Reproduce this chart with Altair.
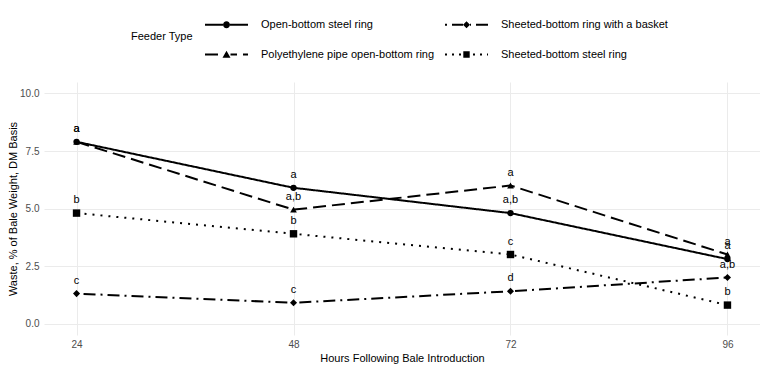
import altair as alt
import pandas as pd

# ---- data ----
hours = [24, 48, 72, 96]
feeder_order = [
    "Open-bottom steel ring",
    "Polyethylene pipe open-bottom ring",
    "Sheeted-bottom ring with a basket",
    "Sheeted-bottom steel ring",
]
open_steel = [7.9, 5.9, 4.8, 2.8]
poly_pipe = [7.9, 4.95, 6.0, 3.0]
basket = [1.3, 0.9, 1.4, 2.0]
sheeted_steel = [4.8, 3.9, 3.0, 0.8]

open_steel_letters = ["a", "a", "a,b", "a"]
poly_pipe_letters = ["a", "a,b", "a", "a"]
basket_letters = ["c", "c", "d", "a,b"]
sheeted_steel_letters = ["b", "b", "c", "b"]

y_ticks = [0, 2.5, 5, 7.5, 10]

values = [open_steel, poly_pipe, basket, sheeted_steel]
letters = [open_steel_letters, poly_pipe_letters, basket_letters, sheeted_steel_letters]

rows = []
for name, vals, lets in zip(feeder_order, values, letters):
    for h, v, l in zip(hours, vals, lets):
        rows.append({"Feeder": name, "Hours": h, "Waste": v, "Letter": l})
df = pd.DataFrame(rows)

# ---- styles ----
FONT = "Liberation Sans"
dashes = [[1, 0], [13, 6], [2, 5, 12, 5], [2, 6]]
point_shapes = ["circle", "triangle-up", "diamond", "square"]
point_sizes = [40, 55, 32, 40]

# legend keys: line segment (with dash pattern) plus marker, as custom paths
KEY_W = 43.0
U = KEY_W / 2.0


def fmt(v):
    return f"{v / U:.4f}"


def rect(x0, x1, h=1.0):
    return f"M{fmt(x0)},{fmt(-h)}L{fmt(x1)},{fmt(-h)}L{fmt(x1)},{fmt(h)}L{fmt(x0)},{fmt(h)}Z"


def dash_segments(pattern, gap_lo, gap_hi):
    segs = []
    x = -U
    i = 0
    on = True
    while x < U:
        x1 = min(x + pattern[i % len(pattern)], U)
        if on and x1 > x:
            segs.append((x, x1))
        x = x1
        on = not on
        i += 1
    out = []
    for a, b in segs:
        if b <= gap_lo or a >= gap_hi:
            out.append((a, b))
        else:
            if a < gap_lo:
                out.append((a, gap_lo))
            if b > gap_hi:
                out.append((gap_hi, b))
    return "".join(rect(a, b) for a, b in out)


def circle(r):
    return (f"M{fmt(-r)},0A{fmt(r)},{fmt(r)} 0 1 1 {fmt(r)},0"
            f"A{fmt(r)},{fmt(r)} 0 1 1 {fmt(-r)},0Z")


def triangle(w, h):
    return f"M0,{fmt(-h * 0.55)}L{fmt(w / 2)},{fmt(h * 0.45)}L{fmt(-w / 2)},{fmt(h * 0.45)}Z"


def diamond(r):
    return f"M0,{fmt(-r)}L{fmt(r)},0L0,{fmt(r)}L{fmt(-r)},0Z"


def square(r):
    return f"M{fmt(-r)},{fmt(-r)}L{fmt(r)},{fmt(-r)}L{fmt(r)},{fmt(r)}L{fmt(-r)},{fmt(r)}Z"


key_paths = [
    dash_segments([100, 0], -3.5, 3.5) + circle(3.5),
    dash_segments([13, 6], -4, 4) + triangle(8, 7),
    dash_segments([2, 5, 12, 5], -3.5, 3.5) + diamond(3.5),
    dash_segments([2, 5], -3.2, 3.2) + square(3.2),
]

x_enc = alt.X(
    "Hours:Q",
    scale=alt.Scale(domain=[20.4, 99.6], nice=False, zero=False),
    axis=alt.Axis(
        values=hours, format="d", title="Hours Following Bale Introduction",
        grid=True, gridColor="#ebebeb", gridWidth=1, ticks=False, domain=False,
        labelColor="#4d4d4d", labelFontSize=10, labelPadding=4, labelFont=FONT,
        titleFont=FONT, titleFontSize=11, titleFontWeight="normal", titleColor="black",
        titlePadding=3,
    ),
)
y_enc = alt.Y(
    "Waste:Q",
    scale=alt.Scale(domain=[-0.5, 10.5], nice=False, zero=False),
    axis=alt.Axis(
        values=y_ticks, format=".1f", title="Waste, % of Bale Weight, DM Basis",
        grid=True, gridColor="#ebebeb", gridWidth=1, ticks=False, domain=False,
        labelColor="#4d4d4d", labelFontSize=10, labelPadding=5, labelFont=FONT,
        titleFont=FONT, titleFontSize=11, titleFontWeight="normal", titleColor="black",
        titlePadding=1,
    ),
)

base = alt.Chart(df)

lines = base.mark_line(color="black", strokeWidth=2).encode(
    x=x_enc, y=y_enc,
    strokeDash=alt.StrokeDash("Feeder:N", scale=alt.Scale(domain=feeder_order, range=dashes), legend=None),
)

points = base.mark_point(filled=True, color="black", opacity=1).encode(
    x=x_enc, y=y_enc,
    shape=alt.Shape("Feeder:N", scale=alt.Scale(domain=feeder_order, range=point_shapes), legend=None),
    size=alt.Size("Feeder:N", scale=alt.Scale(domain=feeder_order, range=point_sizes), legend=None),
)

legend_layer = base.mark_point(filled=True, color="black", opacity=0).encode(
    x=x_enc, y=y_enc,
    shape=alt.Shape(
        "Feeder:N",
        scale=alt.Scale(domain=feeder_order, range=key_paths),
        legend=alt.Legend(
            title="Feeder Type", orient="none", legendX=87, legendY=-79,
            columns=2, titleOrient="left", titleAnchor="middle", titleBaseline="top",
            titleFont=FONT, titleFontSize=11, titleFontWeight="normal", titleColor="black",
            titlePadding=12,
            labelFont=FONT, labelFontSize=11, labelColor="black", labelOffset=13, labelLimit=400,
            symbolSize=KEY_W * KEY_W, symbolStrokeWidth=0, symbolOpacity=1,
            symbolFillColor="black", columnPadding=10, rowPadding=3,
        ),
    ),
)

labels = base.mark_text(dy=-13, fontSize=11, font=FONT, color="black").encode(
    x=x_enc, y=y_enc, text="Letter:N"
)

chart = (
    alt.layer(lines, points, legend_layer, labels)
    .resolve_scale(shape="independent")
    .properties(
        width=716, height=253,
        autosize=alt.AutoSizeParams(type="none"),
        padding={"left": 36, "top": 74, "right": 0, "bottom": 30},
        background="white",
    )
    .configure_view(stroke=None)
)

chart.save("out.html", embed_options={"renderer": "svg", "actions": False})
